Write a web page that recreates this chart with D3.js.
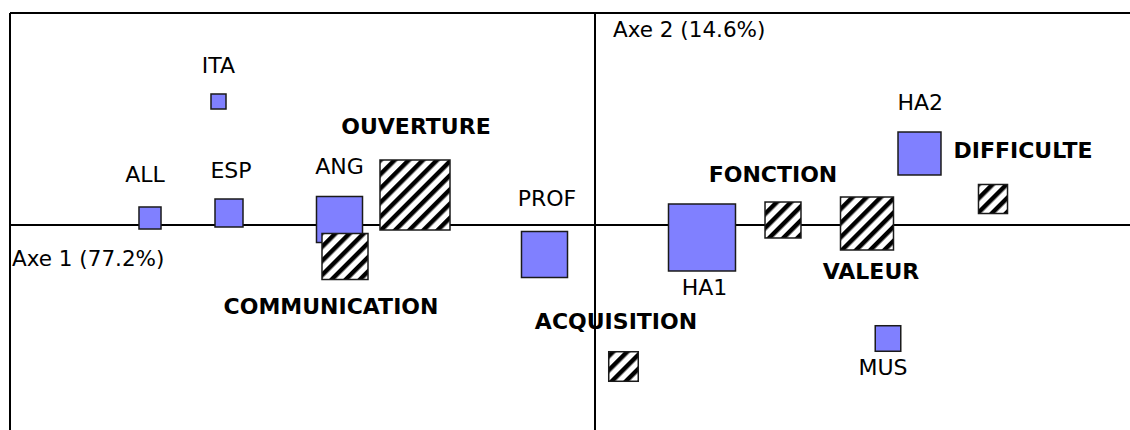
<!DOCTYPE html>
<html>
<head>
<meta charset="utf-8">
<script src="https://cdn.jsdelivr.net/npm/d3@7"></script>
<style>
  body { margin: 0; background: #fff; }
  text { font-family: "DejaVu Sans", Verdana, sans-serif; }
</style>
</head>
<body>
<div id="chart"></div>
<script>
// Modalites (carres bleus)
const modalites = ["ITA", "ALL", "ESP", "ANG", "PROF", "HA1", "HA2", "MUS"];
const modX = [-0.753, -0.890, -0.732, -0.511, -0.101, 0.214, 0.649, 0.586];
const modY = [0.247, 0.014, 0.024, 0.011, -0.059, -0.025, 0.143, -0.227];
const modMasse = [4.6, 9.9, 16.0, 43.2, 43.2, 91.6, 37.7, 13.3];

// Themes (carres hachures)
const themes = ["OUVERTURE", "COMMUNICATION", "ACQUISITION", "FONCTION", "VALEUR", "DIFFICULTE"];
const themeX = [-0.360, -0.500, 0.057, 0.376, 0.544, 0.796];
const themeY = [0.060, -0.063, -0.283, 0.010, 0.003, 0.052];
const themeMasse = [100, 43.2, 17.8, 26.4, 57.3, 17.2];

const axisLabels = ["Axe 1 (77.2%)", "Axe 2 (14.6%)"];

// label placement relative to the square centre (dx, dy to baseline)
const labelOffset = {
  ITA: [0, -28.5], ALL: [-5, -36], ESP: [2, -35], ANG: [0, -45.5],
  PROF: [2.5, -48.5], HA1: [2.5, 57.5], HA2: [0.7, -43.5], MUS: [-5, 36],
  OUVERTURE: [1, -61], COMMUNICATION: [-14, 57.5], ACQUISITION: [-7.5, -38],
  FONCTION: [-10, -38.5], VALEUR: [4, 55], DIFFICULTE: [30, -41]
};

const width = 1130, height = 430;
const margin = {top: 13, left: 10};

const svg = d3.select("#chart").append("svg")
  .attr("width", width)
  .attr("height", height);

const defs = svg.append("defs");
const pat = defs.append("pattern")
  .attr("id", "hatch")
  .attr("patternUnits", "userSpaceOnUse")
  .attr("width", 10)
  .attr("height", 10)
  .attr("patternTransform", "rotate(45)");
pat.append("rect").attr("width", 10).attr("height", 10).attr("fill", "#fff");
pat.append("rect").attr("width", 4.5).attr("height", 10).attr("fill", "#000");

// same scale on both axes (500 px per unit)
const x = d3.scaleLinear().domain([-1.17, 1.07]).range([margin.left, width]);
const y = d3.scaleLinear().domain([-0.41, 0.424]).range([height, margin.top]);
const side = d3.scaleSqrt().domain([0, 100]).range([0, 70]);

const mods = modalites.map((d, i) => ({name: d, x: modX[i], y: modY[i], m: modMasse[i]}));
const ths = themes.map((d, i) => ({name: d, x: themeX[i], y: themeY[i], m: themeMasse[i]}));

// labels first (axis lines pass over them)
svg.append("g").selectAll("text")
  .data(mods)
  .join("text")
  .attr("x", d => x(d.x) + labelOffset[d.name][0])
  .attr("y", d => y(d.y) + labelOffset[d.name][1])
  .attr("text-anchor", "middle")
  .attr("font-size", "22px")
  .attr("fill", "#000")
  .text(d => d.name);

svg.append("g").selectAll("text")
  .data(ths)
  .join("text")
  .attr("x", d => x(d.x) + labelOffset[d.name][0])
  .attr("y", d => y(d.y) + labelOffset[d.name][1])
  .attr("text-anchor", "middle")
  .attr("font-size", "22px")
  .attr("font-weight", "bold")
  .attr("fill", "#000")
  .text(d => d.name);

svg.append("text")
  .attr("x", margin.left + 2)
  .attr("y", y(0) + 41)
  .attr("font-size", "21.5px")
  .text(axisLabels[0]);

svg.append("text")
  .attr("x", x(0) + 18)
  .attr("y", margin.top + 23.5)
  .attr("font-size", "21.5px")
  .text(axisLabels[1]);

// frame and axes
const lines = svg.append("g").attr("stroke", "#000").attr("stroke-width", 1.2).attr("shape-rendering", "crispEdges");
lines.append("line").attr("x1", margin.left).attr("x2", width).attr("y1", margin.top).attr("y2", margin.top);
lines.append("line").attr("x1", margin.left).attr("x2", margin.left).attr("y1", margin.top).attr("y2", height);
lines.append("line").attr("x1", margin.left).attr("x2", width).attr("y1", y(0)).attr("y2", y(0));
lines.append("line").attr("x1", x(0)).attr("x2", x(0)).attr("y1", margin.top).attr("y2", height);

// squares
svg.append("g").selectAll("rect")
  .data(mods)
  .join("rect")
  .attr("x", d => x(d.x) - side(d.m) / 2)
  .attr("y", d => y(d.y) - side(d.m) / 2)
  .attr("width", d => side(d.m))
  .attr("height", d => side(d.m))
  .attr("fill", "#8080ff")
  .attr("stroke", "#1a1a1a")
  .attr("stroke-width", 1.5);

svg.append("g").selectAll("rect")
  .data(ths)
  .join("rect")
  .attr("x", d => x(d.x) - side(d.m) / 2)
  .attr("y", d => y(d.y) - side(d.m) / 2)
  .attr("width", d => side(d.m))
  .attr("height", d => side(d.m))
  .attr("fill", "url(#hatch)")
  .attr("stroke", "#1a1a1a")
  .attr("stroke-width", 1.5);
</script>
</body>
</html>
